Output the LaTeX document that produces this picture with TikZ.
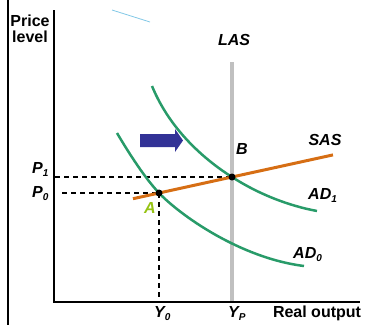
\documentclass[tikz,border=0pt]{standalone}
\usepackage{fontspec}
\setmainfont{Liberation Sans}
\definecolor{adgreen}{RGB}{40,155,105}
\definecolor{sasorange}{RGB}{214,110,20}
\definecolor{shiftblue}{RGB}{50,50,150}
\definecolor{lasgray}{RGB}{192,192,192}
\definecolor{skyline}{RGB}{130,200,230}
\definecolor{ptgreen}{RGB}{150,195,20}
\newcommand{\lowsub}[1]{\raisebox{-0.4ex}{\fontsize{10}{10}\selectfont #1}}
\begin{document}
\begin{tikzpicture}[x=1pt,y=-1pt,
  lbl/.style={inner sep=0pt,font=\fontsize{16}{16}\selectfont\bfseries\itshape},
  axlbl/.style={inner sep=0pt,font=\fontsize{16}{16}\selectfont\bfseries,align=center},
  axisline/.style={line width=2pt,black},
  adcurve/.style={line width=2.5pt,adgreen},
  guide/.style={line width=1.4pt,black,dash pattern=on 5pt off 4pt},
  eqdot/.style={circle,fill=black,inner sep=0pt,minimum size=7pt}]
\useasboundingbox (0,0) rectangle (366,325);
% frame line at left
\coordinate (fr1) at (8,0);
\coordinate (fr2) at (8,325);
\draw[line width=2pt] (fr1) -- (fr2);
% light blue stroke
\coordinate (sk1) at (112,10);
\coordinate (sk2) at (150,22);
\draw[skyline,line width=0.8pt] (sk1) -- (sk2);
% axes
\coordinate (ytop) at (54,10);
\coordinate (orig) at (54,302);
\coordinate (xend) at (360,302);
\draw[axisline] (ytop) -- (orig) -- (xend);
% key points
\coordinate (A) at (159,193);
\coordinate (B) at (232,177);
\coordinate (lasT) at (232,62);
\coordinate (lasB) at (232,301);
\coordinate (Ax) at (159,301);
\coordinate (p1s) at (55,177);
\coordinate (p0s) at (62,193);
% LAS
\draw[lasgray,line width=4pt] (lasT) -- (lasB);
% dashed guides
\draw[guide] (p1s) -- (B);
\draw[guide] (p0s) -- (A);
\draw[guide] (A) -- (Ax);
% AD curves
\coordinate (ad1s) at (152,86);
\coordinate (ad1e) at (317,211);
\draw[adcurve] (ad1s) .. controls (170,130) and (205,160) .. (B)
  .. controls (260,195) and (290,206) .. (ad1e);
\coordinate (ad0s) at (117,133);
\coordinate (ad0e) at (304,266);
\draw[adcurve] (ad0s) .. controls (130,155) and (145,178) .. (A)
  .. controls (180,215) and (240,258) .. (ad0e);
% SAS
\coordinate (sasS) at (133,198.7);
\coordinate (sasE) at (333,154.9);
\draw[sasorange,line width=3pt] (sasS) -- (A) -- (B) -- (sasE);
% dots
\node[eqdot] (dotA) at (A) {};
\node[eqdot] (dotB) at (B) {};
% shift arrow
\fill[shiftblue] (140,134) -- (175,134) -- (175,129) -- (183,140.5) -- (175,152) -- (175,147) -- (140,147) -- cycle;
% labels
\node[axlbl,anchor=north] (plab) at (30,15) {Price\\level};
\node[lbl,anchor=base] (laslab) at (234,45) {LAS};
\node[lbl,anchor=base] (saslab) at (325,145) {SAS};
\node[lbl,anchor=base] (blab) at (242,154) {B};
\node[lbl,anchor=base west] (ad1lab) at (308,199) {AD\lowsub{1}};
\node[lbl,anchor=base west] (ad0lab) at (293,258) {AD\lowsub{0}};
\node[lbl,anchor=base west] (p1lab) at (32,173) {P\lowsub{1}};
\node[lbl,anchor=base west] (p0lab) at (32,197) {P\lowsub{0}};
\node[lbl,anchor=base,text=ptgreen] (alab) at (150,213) {A};
\node[lbl,anchor=base west] (y0lab) at (154,317) {Y\lowsub{0}};
\node[lbl,anchor=base west] (yplab) at (228,317) {Y\lowsub{P}};
\node[axlbl,anchor=base] (xlab) at (317,317) {Real output};
\end{tikzpicture}
\end{document}
